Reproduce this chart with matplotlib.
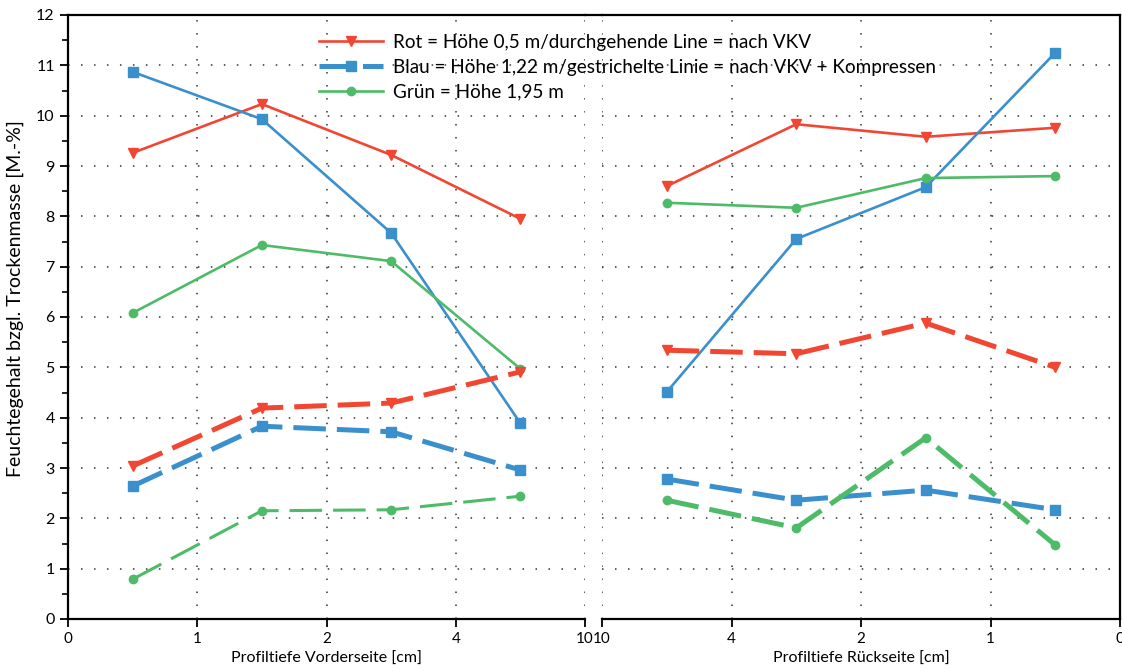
import matplotlib.pyplot as plt
from matplotlib.lines import Line2D
from matplotlib.ticker import MultipleLocator

plt.rcParams['font.family'] = ['Lato', 'DejaVu Sans']

# tick labels (equal spacing, non-linear depth values)
front_ticks = ["0", "1", "2", "4", "10"]
back_ticks = ["10", "4", "2", "1", "0"]
# measurement positions (between tick marks)
x_pos = [0.5, 1.5, 2.5, 3.5]

# Vorderseite
front_red_solid = [9.26, 10.23, 9.22, 7.95]
front_blue_solid = [10.87, 9.93, 7.67, 3.89]
front_green_solid = [6.08, 7.43, 7.11, 4.97]
front_red_dash = [3.04, 4.19, 4.29, 4.91]
front_blue_dash = [2.64, 3.83, 3.72, 2.96]
front_green_dash = [0.79, 2.15, 2.17, 2.44]

# Rückseite
back_red_solid = [8.60, 9.83, 9.58, 9.76]
back_blue_solid = [4.51, 7.55, 8.58, 11.25]
back_green_solid = [8.27, 8.17, 8.76, 8.80]
back_red_dash = [5.34, 5.27, 5.88, 5.00]
back_blue_dash = [2.78, 2.36, 2.56, 2.17]
back_green_dash = [2.36, 1.81, 3.60, 1.47]

RED = "#f04632"
BLUE = "#3a8fcd"
GREEN = "#4dbb68"

legend_labels = [
    "Rot = Höhe 0,5 m/durchgehende Line = nach VKV",
    "Blau = Höhe 1,22 m/gestrichelte Linie = nach VKV + Kompressen",
    "Grün = Höhe 1,95 m",
]

fig = plt.figure(figsize=(11.22, 6.71), dpi=100)
ax1 = fig.add_axes([68 / 1122, 52 / 671, 517 / 1122, 604 / 671])
ax2 = fig.add_axes([602 / 1122, 52 / 671, 518 / 1122, 604 / 671])

DASH = (0, (6.5, 2.2))


def draw(ax, rs, bs, gs, rd, bd, gd, green_dash_lw):
    ax.plot(x_pos, rs, color=RED, lw=1.9, marker="v", ms=7, zorder=3)
    ax.plot(x_pos, bs, color=BLUE, lw=1.9, marker="s", ms=6.5, zorder=3)
    ax.plot(x_pos, gs, color=GREEN, lw=1.9, marker="o", ms=6, zorder=3)
    ax.plot(x_pos, rd, color=RED, lw=3.6, ls=DASH, marker="v", ms=7, zorder=3)
    ax.plot(x_pos, bd, color=BLUE, lw=3.6, ls=DASH, marker="s", ms=7, zorder=3)
    gdash = (0, (6.5 * 3.6 / green_dash_lw, 2.2 * 3.6 / green_dash_lw))
    ax.plot(x_pos, gd, color=GREEN, lw=green_dash_lw, ls=gdash, marker="o", ms=6, zorder=3)


draw(ax1, front_red_solid, front_blue_solid, front_green_solid,
     front_red_dash, front_blue_dash, front_green_dash, 2.2)
draw(ax2, back_red_solid, back_blue_solid, back_green_solid,
     back_red_dash, back_blue_dash, back_green_dash, 3.6)

for ax, labels in ((ax1, front_ticks), (ax2, back_ticks)):
    ax.set_xlim(0, 4)
    ax.set_ylim(0, 12)
    ax.set_xticks(range(5))
    ax.set_xticklabels(labels, fontsize=11)
    ax.yaxis.set_major_locator(MultipleLocator(1))
    ax.yaxis.set_minor_locator(MultipleLocator(0.5))
    ax.grid(True, which="major", color="#333333", ls=(0, (1, 7.5)), lw=1.1, zorder=0)
    ax.tick_params(axis="both", direction="out", length=6, width=1.3, labelsize=11.5)
    ax.tick_params(axis="x", labelsize=11)
    ax.tick_params(axis="y", which="minor", direction="out", length=4, width=1.2)
    for sp in ax.spines.values():
        sp.set_linewidth(1.6)

ax1.spines["right"].set_visible(False)
ax2.spines["left"].set_visible(False)
ax2.tick_params(axis="y", which="both", left=False, labelleft=False)

ax1.set_xlabel("Profiltiefe Vorderseite [cm]", fontsize=11.5, labelpad=4)
ax2.set_xlabel("Profiltiefe Rückseite [cm]", fontsize=11.5, labelpad=4)
ax1.set_ylabel("Feuchtegehalt bzgl. Trockenmasse [M.-%]", fontsize=14, labelpad=8)
ax1.yaxis.set_label_coords(-0.085, 0.53)

# continuous top frame line across the gap
fig.add_artist(Line2D([585 / 1122, 602 / 1122], [656 / 671, 656 / 671],
                      transform=fig.transFigure, color="black", lw=1.6))

handles = [
    Line2D([], [], color=RED, lw=1.9, marker="v", ms=7),
    Line2D([], [], color=BLUE, lw=3.6, ls=DASH, marker="s", ms=7),
    Line2D([], [], color=GREEN, lw=1.9, marker="o", ms=6),
]
fig.legend(handles, legend_labels, loc="upper left",
           bbox_to_anchor=(302 / 1122, 1 - 17 / 671), frameon=False,
           fontsize=13.6, handlelength=3.4, labelspacing=0.4, handletextpad=0.5)

fig.savefig("out.png", dpi=100)
